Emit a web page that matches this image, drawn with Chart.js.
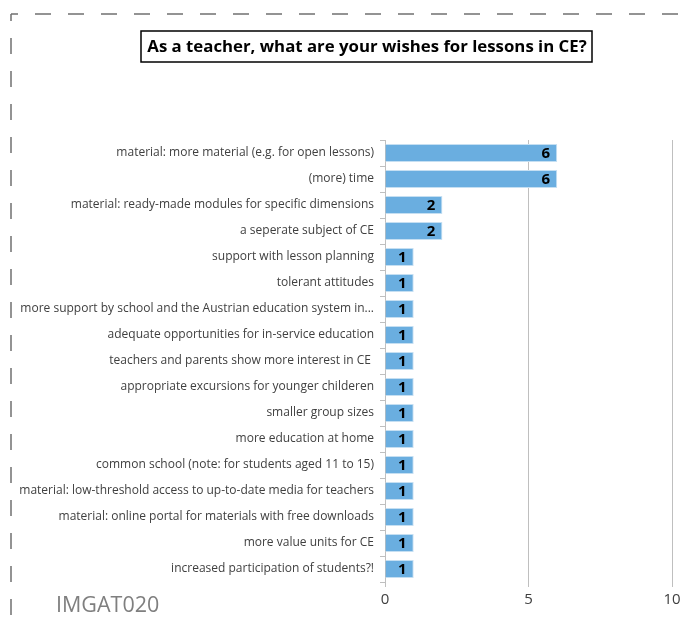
<!DOCTYPE html>
<html>
<head>
<meta charset="utf-8">
<script src="https://cdn.jsdelivr.net/npm/chart.js@4"></script>
<style>
  html, body { margin:0; padding:0; background:#fff; }
  #wrap { position:relative; width:687px; height:619px; }
</style>
</head>
<body>
<div id="wrap"><canvas id="chart" width="687" height="619"></canvas></div>
<script>
const categories = [
  "material: more material (e.g. for open lessons)",
  "(more) time",
  "material: ready-made modules for specific dimensions",
  "a seperate subject of CE",
  "support with lesson planning",
  "tolerant attitudes",
  "more support by school and the Austrian education system in...",
  "adequate opportunities for in-service education",
  "teachers and parents show more interest in CE ",
  "appropriate excursions for younger childeren",
  "smaller group sizes",
  "more education at home",
  "common school (note: for students aged 11 to 15)",
  "material: low-threshold access to up-to-date media for teachers",
  "material: online portal for materials with free downloads",
  "more value units for CE",
  "increased participation of students?!"
];
const counts = [6, 6, 2, 2, 1, 1, 1, 1, 1, 1, 1, 1, 1, 1, 1, 1, 1];
const xTicks = [0, 5, 10];
const titleText = "As a teacher, what are your wishes for lessons in CE?";
const footText = "IMGAT020";

const LABEL_FONT = "'Open Sans', sans-serif";

// dashed frame, boxed title, footer id
const decor = {
  id: "decor",
  beforeDraw(chart) {
    const ctx = chart.ctx;
    ctx.save();
    ctx.strokeStyle = "#707070";
    ctx.lineWidth = 1.5;
    ctx.setLineDash([16, 17]);
    ctx.lineDashOffset = 9;
    ctx.beginPath(); ctx.moveTo(11, 14); ctx.lineTo(700, 14); ctx.stroke();
    ctx.beginPath(); ctx.moveTo(11, 14); ctx.lineTo(11, 640); ctx.stroke();
    ctx.restore();
  },
  afterDraw(chart) {
    const ctx = chart.ctx;
    ctx.save();
    // title box
    ctx.fillStyle = "#fff";
    ctx.fillRect(141, 31, 451, 31);
    ctx.strokeStyle = "#000";
    ctx.lineWidth = 1.5;
    ctx.strokeRect(141, 31, 451, 31);
    ctx.font = "bold 16.8px " + LABEL_FONT;
    ctx.fillStyle = "#000";
    ctx.textAlign = "center";
    ctx.textBaseline = "middle";
    ctx.fillText(titleText, 367, 47);
    // footer
    ctx.font = "21.5px " + LABEL_FONT;
    ctx.fillStyle = "#7f7f7f";
    ctx.textAlign = "left";
    ctx.fillText(footText, 56, 606);
    // value labels at bar ends
    const meta = chart.getDatasetMeta(0);
    ctx.font = "bold 15px " + LABEL_FONT;
    ctx.fillStyle = "#000";
    ctx.textAlign = "right";
    meta.data.forEach((bar, i) => {
      ctx.fillText(String(counts[i]), bar.x - 7, bar.y + 1);
    });
    ctx.restore();
  }
};

new Chart(document.getElementById("chart"), {
  type: "bar",
  data: {
    labels: categories,
    datasets: [{
      data: counts,
      backgroundColor: "#6aaee0",
      borderColor: "#c5dff2",
      borderWidth: 1,
      barPercentage: 0.7,
      categoryPercentage: 1
    }]
  },
  options: {
    indexAxis: "y",
    responsive: false,
    animation: false,
    layout: { padding: { left: 14, right: 15, top: 140, bottom: 0 } },
    plugins: { legend: { display: false }, tooltip: { enabled: false }, title: { display: false } },
    scales: {
      x: {
        min: 0, max: 10,
        afterBuildTicks(scale) { scale.ticks = xTicks.map(v => ({ value: v })); },
        grid: { color: "#bfbfbf", lineWidth: 1, tickLength: 5, drawTicks: true },
        border: { display: false },
        ticks: { color: "#404040", font: { family: LABEL_FONT, size: 15 }, padding: 4 },
        afterFit(scale) { scale.height = 37; }
      },
      y: {
        grid: { drawOnChartArea: false, color: "#bfbfbf", tickLength: 5, offset: true },
        border: { display: true, color: "#bfbfbf", width: 1 },
        ticks: { color: "#404040", font: { family: LABEL_FONT, size: 12 }, padding: 6, autoSkip: false },
        afterFit(scale) { scale.width = 385 - 14; }
      }
    }
  },
  plugins: [decor]
});
</script>
</body>
</html>
